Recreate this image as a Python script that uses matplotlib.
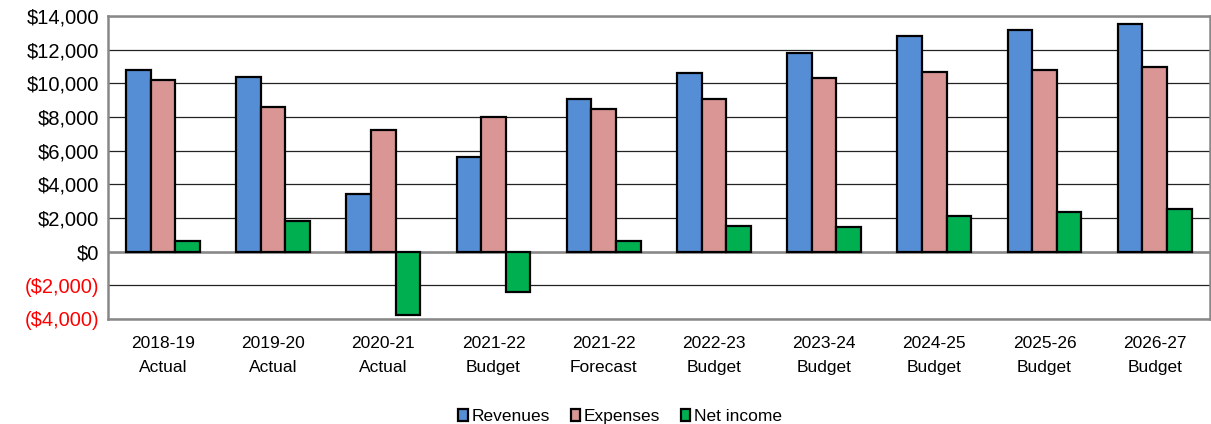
import matplotlib.pyplot as plt
import numpy as np

plt.rcParams['font.family'] = ['Liberation Sans', 'DejaVu Sans']

years = ['2018-19', '2019-20', '2020-21', '2021-22', '2021-22',
         '2022-23', '2023-24', '2024-25', '2025-26', '2026-27']
kinds = ['Actual', 'Actual', 'Actual', 'Budget', 'Forecast',
         'Budget', 'Budget', 'Budget', 'Budget', 'Budget']
revenues = [10800, 10400, 3400, 5600, 9100, 10600, 11800, 12800, 13150, 13550]
expenses = [10200, 8600, 7250, 8000, 8450, 9050, 10300, 10650, 10800, 10950]
net_income = [650, 1800, -3800, -2400, 600, 1500, 1450, 2100, 2350, 2550]

series = [('Revenues', revenues, '#558ED5'),
          ('Expenses', expenses, '#D99694'),
          ('Net income', net_income, '#00B050')]

fig = plt.figure(figsize=(12.11, 4.24), dpi=100)
ax = fig.add_axes([0.089, 0.248, 0.91, 0.714])

x = np.arange(len(years))
w = 0.223
for i, (name, vals, col) in enumerate(series):
    ax.bar(x + (i - 1) * w, vals, w, color=col, edgecolor='black',
           linewidth=1.6, label=name, zorder=3)

ax.set_xlim(-0.5, len(years) - 0.5)
ax.set_ylim(-4000, 14000)
yt = np.arange(-4000, 14001, 2000)
ax.set_yticks(yt)
ax.set_yticklabels([f'${v:,.0f}' if v >= 0 else f'(${-v:,.0f})' for v in yt],
                   fontsize=14.5)
for lab, v in zip(ax.get_yticklabels(), yt):
    if v < 0:
        lab.set_color('red')

ax.set_xticks(x)
ax.set_xticklabels([f'{a}\n{b}' for a, b in zip(years, kinds)], fontsize=12.5,
                   linespacing=1.75)
ax.tick_params(length=0, pad=6)
ax.tick_params(axis='x', pad=12)

ax.yaxis.grid(True, color='#222222', linewidth=0.9, zorder=0)
ax.axhline(0, color='#888888', linewidth=1.8, zorder=2)
for s in ax.spines.values():
    s.set_color('#888888')
    s.set_linewidth(1.8)

ax.legend(loc='upper center', bbox_to_anchor=(0.465, -0.245), ncol=3,
          frameon=False, fontsize=12.5, handlelength=0.55, handleheight=0.75,
          handletextpad=0.2, columnspacing=1.2)

fig.savefig('out.png', dpi=100)
